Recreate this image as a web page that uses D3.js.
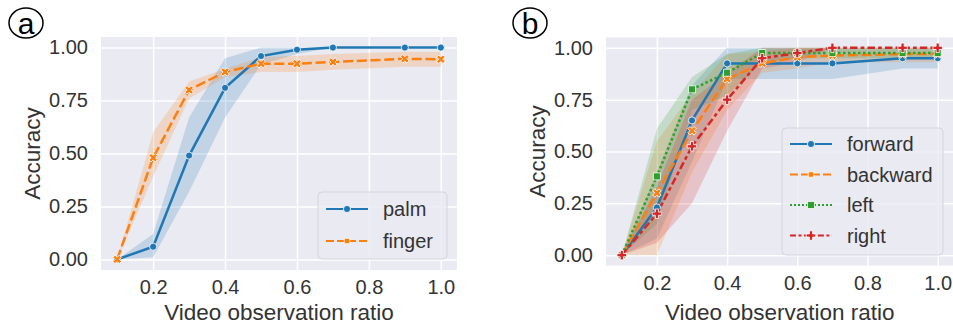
<!DOCTYPE html>
<html><head><meta charset="utf-8">
<script src="https://cdn.jsdelivr.net/npm/d3@7"></script>
<style>
body{margin:0;background:#fff;}
svg{display:block;font-family:"Liberation Sans",Arial,sans-serif;}
</style></head>
<body><svg id="chart" width="953" height="329"></svg>
<script>
// ---- data ----
const ratios = [0.1, 0.2, 0.3, 0.4, 0.5, 0.6, 0.7, 0.9, 1.0];
const xTicks = [0.2, 0.4, 0.6, 0.8, 1.0];
const yTicks = [0, 0.25, 0.5, 0.75, 1.0];

// panel a
const palmMean   = [0, 0.06, 0.49, 0.81, 0.96, 0.99, 1.0, 1.0, 1.0];
const palmLow    = [0, 0.01, 0.32, 0.67, 0.92, 0.97, 1.0, 1.0, 1.0];
const palmHigh   = [0, 0.12, 0.67, 0.95, 1.0, 1.0, 1.0, 1.0, 1.0];
const fingerMean = [0, 0.48, 0.80, 0.885, 0.924, 0.924, 0.932, 0.947, 0.945];
const fingerLow  = [0, 0.39, 0.76, 0.86, 0.885, 0.885, 0.895, 0.91, 0.91];
const fingerHigh = [0, 0.60, 0.84, 0.90, 0.955, 0.96, 0.97, 0.98, 0.98];

// panel b
const forwardMean  = [0, 0.23, 0.65, 0.925, 0.925, 0.925, 0.925, 0.95, 0.95];
const forwardLow   = [0, 0.08, 0.45, 0.85, 0.85, 0.85, 0.85, 0.90, 0.90];
const forwardHigh  = [0, 0.40, 0.82, 1.0, 1.0, 1.0, 1.0, 1.0, 1.0];
const backwardMean = [0, 0.30, 0.60, 0.85, 0.925, 0.955, 0.963, 0.97, 0.97];
const backwardLow  = [0, 0.0, 0.40, 0.70, 0.88, 0.90, 0.93, 0.93, 0.93];
const backwardHigh = [0, 0.55, 0.78, 0.97, 0.98, 1.0, 1.0, 1.0, 1.0];
const leftMean     = [0, 0.38, 0.80, 0.88, 0.975, 0.975, 0.975, 0.975, 0.975];
const leftLow      = [0, 0.15, 0.70, 0.77, 0.93, 0.95, 0.95, 0.95, 0.95];
const leftHigh     = [0, 0.61, 0.86, 0.97, 1.0, 1.0, 1.0, 1.0, 1.0];
const rightMean    = [0, 0.20, 0.525, 0.75, 0.95, 0.975, 1.0, 1.0, 1.0];
const rightLow     = [0, 0.06, 0.25, 0.60, 0.90, 0.93, 1.0, 1.0, 1.0];
const rightHigh    = [0, 0.33, 0.75, 0.88, 1.0, 1.0, 1.0, 1.0, 1.0];

const panelALabels = ["palm", "finger"];
const panelBLabels = ["forward", "backward", "left", "right"];
const xLabel = "Video observation ratio";
const yLabel = "Accuracy";

// ---- styles ----
const colors = ["#1f77b4", "#ff7f0e", "#2ca02c", "#d62728"];
const dashes = [null, "10,3.75", "2.5,2.5", "7.5,3.1,3.75,3.1"];
const markerTypes = ["circle", "x", "square", "plus"];
const textColor = "#333";

const svg = d3.select("#chart");

function markerPath(type, size) {
  if (type === "circle") return d3.symbol(d3.symbolCircle, size)();
  if (type === "square") return d3.symbol(d3.symbolSquare, size)();
  return d3.symbol(d3.symbolCross, size)();
}
function drawMarker(g, type, x, y, color, size) {
  g.append("path")
    .attr("d", markerPath(type, size))
    .attr("transform", `translate(${x},${y})` + (type === "x" ? " rotate(45)" : ""))
    .attr("fill", color).attr("stroke", "#fff").attr("stroke-width", 0.8);
}

function drawPanel(cfg) {
  const x = d3.scaleLinear().domain([0.055, 1.045]).range([cfg.left, cfg.right]);
  const y = d3.scaleLinear().domain([-0.05, 1.05]).range([cfg.bottom, cfg.top]);
  const g = svg.append("g");

  g.append("rect").attr("x", cfg.left).attr("y", cfg.top)
    .attr("width", cfg.right - cfg.left).attr("height", cfg.bottom - cfg.top)
    .attr("fill", "#eaeaf2");

  // grid
  const xAxis = d3.axisBottom(x).tickValues(xTicks).tickFormat(d3.format(".1f"))
    .tickSize(-(cfg.bottom - cfg.top)).tickPadding(10);
  const yAxis = d3.axisLeft(y).tickValues(yTicks).tickFormat(d3.format(".2f"))
    .tickSize(-(cfg.right - cfg.left)).tickPadding(13);
  const gx = g.append("g").attr("transform", `translate(0,${cfg.bottom})`).call(xAxis);
  const gy = g.append("g").attr("transform", `translate(${cfg.left},0)`).call(yAxis);
  [gx, gy].forEach(a => {
    a.select(".domain").remove();
    a.selectAll(".tick line").attr("stroke", "#fff").attr("stroke-width", 1.5);
    a.selectAll(".tick text").attr("fill", textColor).attr("font-size", 20)
      .attr("font-family", '"Liberation Sans",Arial,sans-serif');
  });

  const area = d3.area().x(d => x(d.r)).y0(d => y(d.lo)).y1(d => y(d.hi));
  const line = d3.line().x(d => x(d.r)).y(d => y(d.m));

  cfg.series.forEach((s, i) => {
    const pts = ratios.map((r, k) => ({r, m: s.mean[k], lo: s.low[k], hi: s.high[k]}));
    g.append("path").attr("d", area(pts)).attr("fill", colors[i]).attr("fill-opacity", 0.2);
    s.pts = pts;
  });
  cfg.series.forEach((s, i) => {
    g.append("path").attr("d", line(s.pts)).attr("fill", "none")
      .attr("stroke", colors[i]).attr("stroke-width", 2.5)
      .attr("stroke-dasharray", dashes[i]);
    s.pts.forEach(p => drawMarker(g, markerTypes[i], x(p.r), y(p.m), colors[i], cfg.msize[i]));
  });

  // legend
  const L = cfg.legend;
  g.append("rect").attr("x", L.x).attr("y", L.y).attr("width", L.w).attr("height", L.h)
    .attr("rx", 4).attr("fill", "#eaeaf2").attr("fill-opacity", 0.8)
    .attr("stroke", "#d4d4dc").attr("stroke-width", 1);
  cfg.series.forEach((s, i) => {
    const yy = L.y + L.first + i * L.step;
    g.append("line").attr("x1", L.x + 8).attr("x2", L.x + 50).attr("y1", yy).attr("y2", yy)
      .attr("stroke", colors[i]).attr("stroke-width", 2)
      .attr("stroke-dasharray", i === 0 ? null : dashes[i].split(",").map(v => v * 0.8).join(","));
    drawMarker(g, i === 1 ? "square" : markerTypes[i], L.x + 29, yy, colors[i], i === 1 ? 30 : cfg.msize[i]);
    g.append("text").attr("x", L.x + 65).attr("y", yy).attr("dy", "0.35em")
      .attr("font-size", 20).attr("fill", textColor).text(s.label);
  });

  // axis labels
  g.append("text").attr("x", (cfg.left + cfg.right) / 2).attr("y", 320)
    .attr("text-anchor", "middle").attr("font-size", 22.5)
    .attr("fill", textColor).text(xLabel);
  g.append("text").attr("transform", `translate(${cfg.ylabX},${(cfg.top + cfg.bottom) / 2}) rotate(-90)`)
    .attr("dy", "0.35em").attr("text-anchor", "middle").attr("font-size", 22.5)
    .attr("fill", textColor).text(yLabel);

  // circled panel letter
  g.append("ellipse").attr("cx", cfg.tag.x).attr("cy", cfg.tag.y).attr("rx", 17).attr("ry", 15)
    .attr("fill", "none").attr("stroke", "#000").attr("stroke-width", 1.5);
  g.append("text").attr("x", cfg.tag.x).attr("y", cfg.tag.y).attr("dy", "0.36em")
    .attr("text-anchor", "middle").attr("font-size", 30).attr("fill", "#000").text(cfg.tag.t);
}

drawPanel({
  left: 101, right: 457, top: 37, bottom: 270,
  ylabX: 32,
  tag: {x: 26, y: 23, t: "a"},
  msize: [40, 45],
  series: [
    {label: panelALabels[0], mean: palmMean, low: palmLow, high: palmHigh},
    {label: panelALabels[1], mean: fingerMean, low: fingerLow, high: fingerHigh}
  ],
  legend: {x: 318, y: 192, w: 129, h: 67, first: 17, step: 32}
});

drawPanel({
  left: 606, right: 953.5, top: 37.5, bottom: 265.5,
  ylabX: 537,
  tag: {x: 530, y: 23, t: "b"},
  msize: [40, 45, 50, 50],
  series: [
    {label: panelBLabels[0], mean: forwardMean, low: forwardLow, high: forwardHigh},
    {label: panelBLabels[1], mean: backwardMean, low: backwardLow, high: backwardHigh},
    {label: panelBLabels[2], mean: leftMean, low: leftLow, high: leftHigh},
    {label: panelBLabels[3], mean: rightMean, low: rightLow, high: rightHigh}
  ],
  legend: {x: 782, y: 128, w: 161, h: 127, first: 16, step: 30.5}
});
</script>
</body></html>
